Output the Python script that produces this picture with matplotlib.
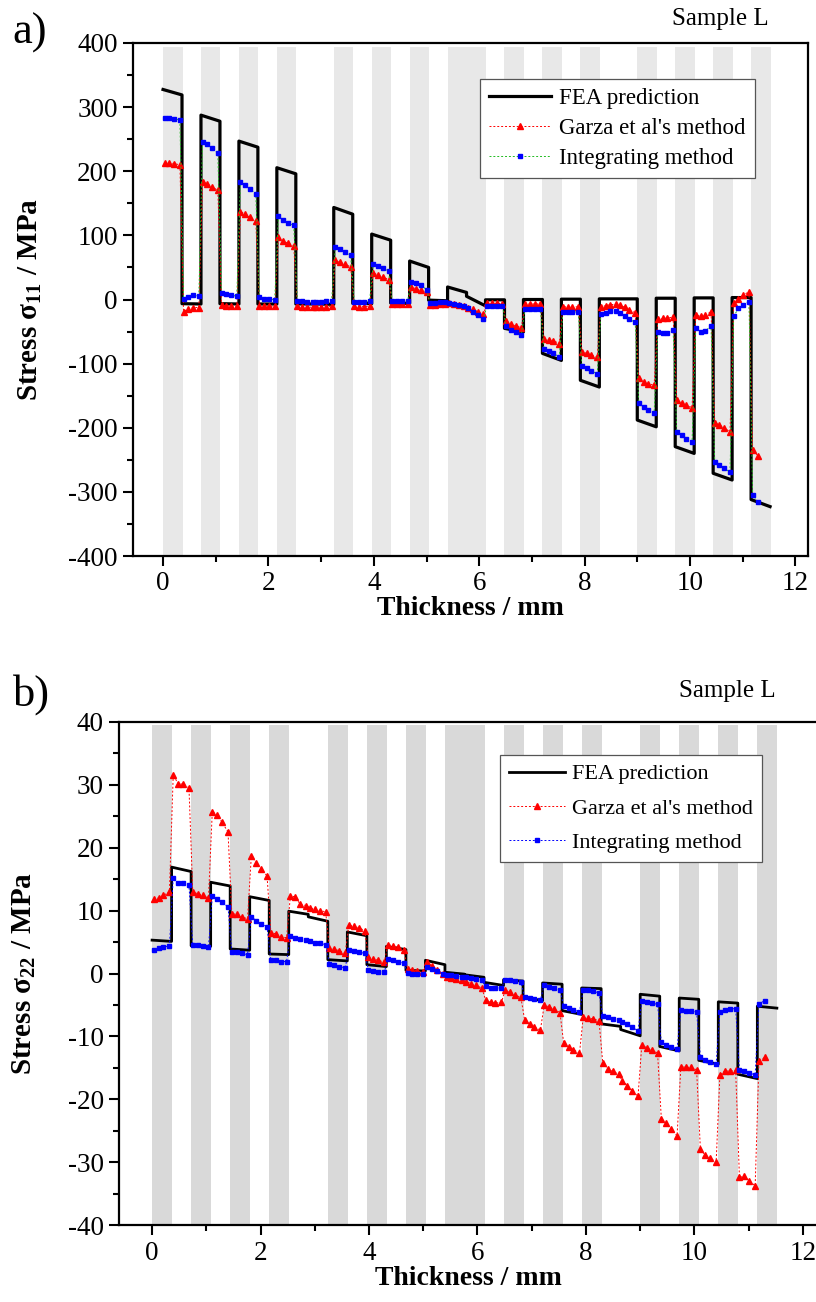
import matplotlib
import numpy as np

matplotlib.use("Agg")

from matplotlib import pyplot as plt
from matplotlib.ticker import MultipleLocator

plt.rcParams["font.family"] = ["Liberation Serif", "DejaVu Serif"]
plt.rcParams["mathtext.fontset"] = "custom"
plt.rcParams["mathtext.rm"] = "Liberation Serif"
plt.rcParams["mathtext.default"] = "regular"
plt.rcParams["axes.unicode_minus"] = False

# ply boundaries (mm), 32 plies of 0.36 mm
LAYER_EDGES = [
    0.00, 0.36, 0.72, 1.08, 1.44, 1.80, 2.16, 2.52, 2.88, 3.24, 3.60,
    3.96, 4.32, 4.68, 5.04, 5.40, 5.76, 6.12, 6.48, 6.84, 7.20, 7.56,
    7.92, 8.28, 8.64, 9.00, 9.36, 9.72, 10.08, 10.44, 10.80, 11.16, 11.52,
]
# shaded plies (start, end) in mm
GREY_BANDS = [
    (0.00, 0.36), (0.72, 1.08), (1.44, 1.80), (2.16, 2.52), (3.24, 3.60),
    (3.96, 4.32), (4.68, 5.04), (5.40, 6.12), (6.48, 6.84), (7.20, 7.56),
    (7.92, 8.28), (9.00, 9.36), (9.72, 10.08), (10.44, 10.80), (11.16, 11.52),
]

# measurement depths (mm)
SAMPLE_DEPTH = [
    0.03, 0.12, 0.21, 0.32, 0.39, 0.48, 0.57, 0.68,
    0.75, 0.84, 0.93, 1.04, 1.11, 1.20, 1.29, 1.40,
    1.47, 1.56, 1.65, 1.76, 1.83, 1.92, 2.01, 2.12,
    2.19, 2.28, 2.37, 2.48, 2.55, 2.64, 2.73, 2.84,
    2.91, 3.00, 3.09, 3.20, 3.27, 3.36, 3.45, 3.56,
    3.63, 3.72, 3.81, 3.92, 3.99, 4.08, 4.17, 4.28,
    4.35, 4.44, 4.53, 4.64, 4.71, 4.80, 4.89, 5.00,
    5.07, 5.16, 5.25, 5.36, 5.43, 5.52, 5.61, 5.72,
    5.79, 5.88, 5.97, 6.08, 6.15, 6.24, 6.33, 6.44,
    6.51, 6.60, 6.69, 6.80, 6.87, 6.96, 7.05, 7.16,
    7.23, 7.32, 7.41, 7.52, 7.59, 7.68, 7.77, 7.88,
    7.95, 8.04, 8.13, 8.24, 8.31, 8.40, 8.49, 8.60,
    8.67, 8.76, 8.85, 8.96, 9.03, 9.12, 9.21, 9.32,
    9.39, 9.48, 9.57, 9.68, 9.75, 9.84, 9.93, 10.04,
    10.11, 10.20, 10.29, 10.40, 10.47, 10.56, 10.65, 10.76,
    10.83, 10.92, 11.01, 11.12, 11.19, 11.30,
]

# ---- panel a: sigma_11 (MPa) ----
FEA_A_TOP = [
    327.5, -6.5, 287.5, -6.5, 247, -7, 205.5, -7,
    -7, 143.5, -6, 102, -5.5, 60, -1, 19.5,
    5, -0.5, -45, 0, -84, 0.5, -126, 1,
    1, -188, 2, -229.5, 2.5, -271, 3, -312,
]
FEA_A_BOTTOM = [
    319, -7, 278, -7, 237.5, -7, 196, -7,
    -7.5, 133, -6.5, 92.5, -6, 50, -2, 11,
    -10, -0.5, -50.5, 0, -95, 0.5, -136.5, 1,
    1, -198.5, 2, -240, 2.5, -281.5, 3, -323,
]
GARZA_A = [
    213, 213, 212, 210, -19, -15, -12.5, -12.5,
    184, 180, 176, 170, -9, -9.5, -10, -10.5,
    137, 133, 128, 122, -10, -10.5, -10.5, -10.5,
    97, 91.5, 87.5, 84, -10.5, -11.5, -12, -12,
    -12, -11.5, -11, -10.5, 61, 58, 55, 51,
    -10.5, -11.5, -11, -10.5, 41.5, 38, 35.5, 31,
    -6.5, -7, -7, -6.5, 19, 17, 14.5, 12,
    -8, -8, -7.5, -7, -6, -7, -8.5, -10,
    -12.5, -15, -19, -23, -6, -6, -6, -6.5,
    -34, -38, -41, -44, -7, -7, -7, -7,
    -61, -63, -64, -69, -11.5, -11.5, -11.5, -11.5,
    -81.5, -84, -87, -89.5, -12, -9.5, -8, -7.5,
    -9, -12, -17, -20.5, -123, -128, -131, -134,
    -30, -29.5, -29, -27.5, -157, -161.5, -165, -168.5,
    -24.5, -26, -24.5, -19, -192.5, -196, -200, -206.5,
    -6, 1.5, 7, 12, -235, -244.5,
]
INTEG_A = [
    283, 283, 282, 280, 1, 4, 6.5, 5.5,
    246, 242, 236, 228, 9.5, 8.5, 7, 5,
    184, 178, 172, 165, 3.5, 1.5, 0.5, 0,
    130, 124, 119.5, 115.5, -2, -3, -4, -4.5,
    -4.5, -4, -3, -2, 82, 78, 74.5, 69,
    -3.5, -4.5, -4, -2.5, 56, 52.5, 49.5, 44.5,
    -2.5, -3, -3, -2.5, 27.5, 25, 22.5, 15.5,
    -5, -5, -4.5, -4, -5, -6.5, -8.5, -10.5,
    -14, -19, -24.5, -30.5, -9.5, -10, -10, -9.5,
    -42, -47, -51, -55, -14.5, -14.5, -14.5, -14.5,
    -77.5, -80.5, -84, -89.5, -19, -19, -19.5, -19.5,
    -104, -107.5, -111.5, -115.5, -23, -20.5, -18.5, -18.5,
    -21, -25.5, -31, -35.5, -162, -168, -172.5, -176.5,
    -50, -52.5, -52, -48, -206.5, -211.5, -217, -222,
    -45, -50.5, -49, -41.5, -253, -258, -263.5, -269,
    -26, -14, -8, -3.5, -305, -316.5,
]

# ---- panel b: sigma_22 (MPa) ----
FEA_B_TOP = [
    5.3, 16.9, 4.4, 14.5, 3.9, 12.2, 3.1, 9.9,
    9.0, 2.2, 6.6, 1.4, 4.3, 0.5, 2.1, 0.2,
    -0.2, -1.4, -1.0, -3.8, -1.5, -5.9, -2.3, -8.0,
    -8.9, -3.3, -11.6, -3.9, -13.8, -4.5, -16.0, -5.2,
]
FEA_B_BOTTOM = [
    5.1, 16.2, 4.3, 13.9, 3.7, 11.6, 3.0, 9.4,
    8.3, 2.0, 6.0, 1.1, 3.8, 0.4, 1.4, -0.1,
    -0.6, -1.9, -1.2, -4.3, -1.7, -6.5, -2.4, -8.4,
    -9.9, -3.6, -12.3, -4.1, -14.4, -4.7, -16.7, -5.5,
]
GARZA_B = [
    11.8, 12.0, 12.4, 13.0, 31.6, 30.1, 30.1, 29.5,
    12.9, 12.7, 12.4, 12.0, 25.7, 25.2, 24.0, 22.5,
    9.5, 9.4, 9.0, 8.7, 18.7, 17.6, 16.6, 15.5,
    6.5, 6.3, 5.8, 5.7, 12.3, 12.2, 11.0, 10.8,
    10.4, 10.2, 10.0, 9.8, 4.1, 3.9, 3.6, 3.2,
    7.7, 7.5, 7.3, 6.8, 2.6, 2.3, 2.1, 1.8,
    4.6, 4.4, 4.2, 3.7, 0.7, 0.6, 0.4, 0.2,
    1.8, 1.2, 0.6, 0.0, -0.5, -0.7, -0.8, -1.0,
    -1.3, -1.6, -1.9, -2.3, -4.2, -4.6, -4.7, -4.6,
    -2.7, -3.0, -3.4, -3.8, -7.4, -8.0, -8.5, -9.0,
    -5.0, -5.3, -5.7, -6.2, -11.1, -11.7, -12.1, -12.7,
    -6.9, -7.1, -7.2, -7.5, -14.2, -15.1, -15.5, -16.0,
    -17.0, -17.8, -18.6, -19.5, -11.3, -11.8, -12.2, -12.6,
    -23.1, -23.8, -24.7, -25.8, -14.8, -14.9, -14.9, -15.3,
    -27.9, -28.9, -29.3, -30.0, -16.1, -15.5, -15.5, -15.4,
    -32.4, -32.2, -33.0, -33.7, -13.9, -13.3,
]
INTEG_B = [
    3.8, 4.0, 4.2, 4.4, 15.2, 14.4, 14.4, 14.0,
    4.6, 4.5, 4.3, 4.2, 12.3, 11.9, 11.3, 10.6,
    3.4, 3.4, 3.2, 3.0, 9.0, 8.4, 7.9, 7.4,
    2.2, 2.2, 1.9, 1.9, 5.9, 5.7, 5.5, 5.3,
    5.1, 4.9, 4.8, 4.6, 1.5, 1.3, 1.1, 0.9,
    3.8, 3.6, 3.4, 3.2, 0.6, 0.4, 0.3, 0.2,
    2.3, 2.2, 1.9, 1.6, 0.1, 0.0, 0.0, -0.1,
    1.0, 0.7, 0.4, 0.0, -0.2, -0.3, -0.4, -0.5,
    -0.6, -0.7, -0.9, -1.1, -2.0, -2.3, -2.3, -2.3,
    -1.1, -1.1, -1.2, -1.4, -3.7, -3.9, -4.0, -4.2,
    -1.9, -2.1, -2.3, -2.6, -5.2, -5.5, -5.8, -6.1,
    -2.6, -2.7, -2.8, -3.1, -6.7, -6.9, -7.2, -7.4,
    -7.7, -8.1, -8.5, -9.1, -4.4, -4.6, -4.7, -4.9,
    -10.9, -11.3, -11.6, -12.0, -5.8, -5.9, -6.0, -6.1,
    -13.2, -13.7, -14.1, -14.4, -6.1, -5.8, -5.6, -5.6,
    -15.4, -15.5, -15.8, -16.1, -4.8, -4.3,
]

FIG_W, FIG_H = 816, 1302


def fea_path(top_values, bottom_values):
    xs, ys = [], []
    for k in range(len(top_values)):
        xs += [LAYER_EDGES[k], LAYER_EDGES[k + 1]]
        ys += [top_values[k], bottom_values[k]]
    return xs, ys


def px_axes(left, top, right, bottom):
    return [left / FIG_W, 1 - bottom / FIG_H, (right - left) / FIG_W, (bottom - top) / FIG_H]


def style_axis(axis, band_color, y_range, y_major, y_minor, show_right):
    for start, end in GREY_BANDS:
        axis.axvspan(start, end + 0.01, ymin=0, ymax=0.993, color=band_color, lw=0, zorder=0)
    axis.set_ylim(*y_range)
    axis.yaxis.set_major_locator(MultipleLocator(y_major))
    axis.yaxis.set_minor_locator(MultipleLocator(y_minor))
    axis.xaxis.set_major_locator(MultipleLocator(2))
    axis.xaxis.set_minor_locator(MultipleLocator(1))
    axis.tick_params(which="both", direction="out", top=False, right=False, width=1.5, labelsize=19.5)
    axis.tick_params(which="major", length=7)
    axis.tick_params(which="minor", length=4)
    axis.tick_params(axis="y", pad=4)
    axis.tick_params(axis="x", pad=4)
    for side in ("left", "bottom", "top", "right"):
        axis.spines[side].set_linewidth(1.6)
    axis.spines["right"].set_visible(show_right)
    axis.set_xlabel("Thickness / mm", fontsize=20, fontweight="bold", labelpad=0)


def add_legend(axis, anchor, spacing, font_size, handle_length):
    legend = axis.legend(
        loc="upper left",
        bbox_to_anchor=anchor,
        borderaxespad=0,
        fancybox=False,
        edgecolor="#555555",
        fontsize=font_size,
        handlelength=handle_length,
        handletextpad=0.35,
        labelspacing=spacing,
        borderpad=0.4,
        numpoints=1,
        framealpha=1,
    )
    legend.get_frame().set_linewidth(0.9)


figure = plt.figure(figsize=(FIG_W / 100, FIG_H / 100), dpi=100)

# panel a
ax_a = figure.add_axes(px_axes(133, 43, 808, 556))
style_axis(ax_a, "#e8e8e8", (-400, 400), 100, 50, True)
ax_a.set_xlim(-0.57, 12.24)
fea_x, fea_y = fea_path(FEA_A_TOP, FEA_A_BOTTOM)
ax_a.plot(fea_x, fea_y, color="black", lw=2.3, zorder=3, label="FEA prediction")
ax_a.plot(SAMPLE_DEPTH, GARZA_A, color="red", ls=(0, (2, 2)), lw=0.7, marker="^", ms=4.5,
          mfc="red", mec="red", zorder=4, label="Garza et al's method")
ax_a.plot(SAMPLE_DEPTH, INTEG_A, color="#22bb22", ls=(0, (2, 2)), lw=0.7, marker="s", ms=3.3,
          mfc="blue", mec="blue", zorder=5, label="Integrating method")
ax_a.set_ylabel("Stress σ$_{11}$ / MPa", fontsize=21, fontweight="bold")
ax_a.yaxis.set_label_coords(-0.132, 0.5)
add_legend(ax_a, (0.514, 0.930), 0.38, 16.5, 2.7)

# panel b
ax_b = figure.add_axes(px_axes(119, 721.7, 817, 1225.3))
style_axis(ax_b, "#d9d9d9", (-40, 40), 10, 5, False)
ax_b.set_xlim(-0.61, 12.26)
fea_x, fea_y = fea_path(FEA_B_TOP, FEA_B_BOTTOM)
ax_b.plot(fea_x, fea_y, color="black", lw=2.0, zorder=3, label="FEA prediction")
ax_b.plot(SAMPLE_DEPTH, GARZA_B, color="red", ls=(0, (2, 2)), lw=0.7, marker="^", ms=4.5,
          mfc="red", mec="red", zorder=4, label="Garza et al's method")
ax_b.plot(SAMPLE_DEPTH, INTEG_B, color="blue", ls=(0, (2, 2)), lw=0.7, marker="s", ms=3.3,
          mfc="blue", mec="blue", zorder=5, label="Integrating method")
ax_b.set_ylabel("Stress σ$_{22}$ / MPa", fontsize=21, fontweight="bold")
ax_b.yaxis.set_label_coords(-0.116, 0.5)
add_legend(ax_b, (0.546, 0.934), 0.62, 16, 2.5)

figure.text(30 / FIG_W, 1 - 33 / FIG_H, "a)", fontsize=32, ha="center", va="center")
figure.text(720 / FIG_W, 1 - 19 / FIG_H, "Sample L", fontsize=18, ha="center", va="center")
figure.text(32 / FIG_W, 1 - 695 / FIG_H, "b)", fontsize=32, ha="center", va="center")
figure.text(727 / FIG_W, 1 - 691 / FIG_H, "Sample L", fontsize=18, ha="center", va="center")

figure.savefig("out.png", dpi=100)
plt.close(figure)
